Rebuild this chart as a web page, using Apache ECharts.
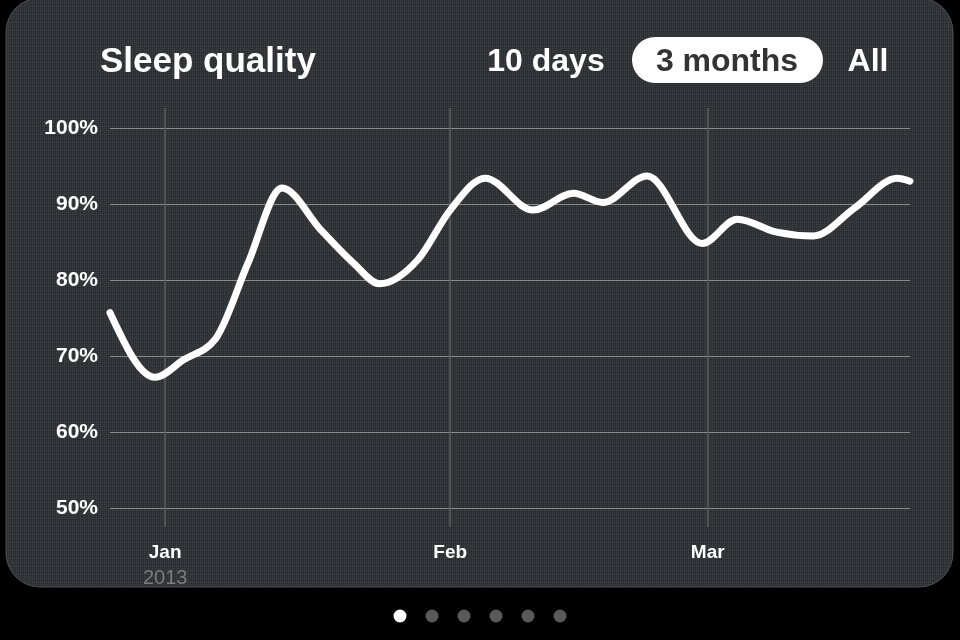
<!DOCTYPE html>
<html>
<head>
<meta charset="utf-8">
<script src="https://cdn.jsdelivr.net/npm/echarts@6/dist/echarts.min.js"></script>
<style>
html,body{margin:0;padding:0;background:#000;}
#c{width:960px;height:640px;}
</style>
</head>
<body>
<div id="c"></div>
<script>
// Day offsets from Jan 1, 2013 (negative = late Dec 2012)
const days = [-6, -1.1, 2, 5.5, 9, 12.7, 17, 20.5, 23.3, 27.5, 31, 34.8, 40, 44.4, 47.6, 52.4,
  58.4, 62.2, 66.5, 70.5, 75, 79.6, 81];
const quality = [75.7, 67.2, 69.5, 72.3, 82.2, 92.1, 86.5, 82.2, 79.5, 82.7, 89.2, 93.4, 89.2, 91.4, 90.2, 93.7,
  84.8, 88, 86.3, 85.8, 89.5, 93.4, 93];
const monthDays = [0, 31, 59];
const monthLabels = ['Jan', 'Feb', 'Mar'];
const yearLabels = ['2013', '', ''];
const yTicks = [50, 60, 70, 80, 90, 100];
const rangeButtons = ['10 days', '3 months', 'All'];
const pageCount = 6;

const FONT = '"Liberation Sans", Arial, Helvetica, sans-serif';

// subtle linen texture
const tex = document.createElement('canvas');
tex.width = 12; tex.height = 12;
const tctx = tex.getContext('2d');
tctx.fillStyle = '#303337';
tctx.fillRect(0, 0, 12, 12);
const shades = ['rgba(255,255,255,0.035)', 'rgba(0,0,0,0.08)', 'rgba(255,255,255,0.02)', 'rgba(0,0,0,0.05)'];
for (let i = 0; i < 12; i++) {
  tctx.fillStyle = shades[i % 4];
  tctx.fillRect(i, 0, 1, 12);
  tctx.fillStyle = shades[(i + 2) % 4];
  tctx.fillRect(0, i, 12, 1);
}

// monotone cubic path through pixel points (like d3.curveMonotoneX)
function monotonePath(p) {
  const n = p.length;
  const m = new Array(n);
  const sgn = function (v) { return v < 0 ? -1 : 1; };
  for (let i = 1; i < n - 1; i++) {
    const h0 = p[i][0] - p[i - 1][0], h1 = p[i + 1][0] - p[i][0];
    const s0 = (p[i][1] - p[i - 1][1]) / h0, s1 = (p[i + 1][1] - p[i][1]) / h1;
    const q = (s0 * h1 + s1 * h0) / (h0 + h1);
    m[i] = (sgn(s0) + sgn(s1)) * Math.min(Math.abs(s0), Math.abs(s1), 0.5 * Math.abs(q)) || 0;
  }
  const hs = p[1][0] - p[0][0];
  m[0] = (3 * (p[1][1] - p[0][1]) / hs - m[1]) / 2;
  const he = p[n - 1][0] - p[n - 2][0];
  m[n - 1] = (3 * (p[n - 1][1] - p[n - 2][1]) / he - m[n - 2]) / 2;
  let d = 'M' + p[0][0] + ' ' + p[0][1];
  for (let i = 0; i < n - 1; i++) {
    const h = (p[i + 1][0] - p[i][0]) / 3;
    d += ' C' + (p[i][0] + h) + ' ' + (p[i][1] + m[i] * h) + ' ' +
      (p[i + 1][0] - h) + ' ' + (p[i + 1][1] - m[i + 1] * h) + ' ' +
      p[i + 1][0] + ' ' + p[i + 1][1];
  }
  return d;
}

const chart = echarts.init(document.getElementById('c'), null, {renderer: 'canvas'});

const pageDots = [];
for (let i = 0; i < pageCount; i++) {
  pageDots.push({
    type: 'circle', shape: {cx: 400 + i * 32, cy: 616, r: 6.5},
    style: {fill: i === 0 ? '#ffffff' : '#5a5a5a'}, z: 10
  });
}

chart.setOption({
  backgroundColor: '#000',
  animation: false,
  graphic: [
    {type: 'rect', shape: {x: 6, y: -2, width: 947, height: 589, r: 34},
     style: {fill: {image: tex, repeat: 'repeat'}, stroke: '#4d5054', lineWidth: 1}, z: -10, silent: true},
    {type: 'text', x: 100, y: 62, style: {text: 'Sleep quality', fill: '#fff', font: 'bold 35px ' + FONT, textVerticalAlign: 'middle'}, z: 10},
    {type: 'text', x: 546, y: 62, style: {text: rangeButtons[0], fill: '#fff', font: 'bold 32px ' + FONT, textAlign: 'center', textVerticalAlign: 'middle'}, z: 10},
    {type: 'rect', shape: {x: 632, y: 37, width: 191, height: 46, r: 23}, style: {fill: '#fff'}, z: 10},
    {type: 'text', x: 727, y: 62, style: {text: rangeButtons[1], fill: '#333', font: 'bold 32px ' + FONT, textAlign: 'center', textVerticalAlign: 'middle'}, z: 11},
    {type: 'text', x: 868, y: 62, style: {text: rangeButtons[2], fill: '#fff', font: 'bold 32px ' + FONT, textAlign: 'center', textVerticalAlign: 'middle'}, z: 10}
  ].concat(pageDots),
  grid: [
    {left: 110, right: 50, top: 128, bottom: 132},
    {left: 110, right: 50, top: 108, bottom: 113}
  ],
  xAxis: [
    {gridIndex: 0, type: 'value', min: -6, max: 81, show: false},
    {gridIndex: 1, type: 'value', min: -6, max: 81,
     axisLine: {show: false}, axisTick: {show: false}, splitLine: {show: false},
     axisLabel: {
       customValues: monthDays, margin: 13,
       formatter: function (v) {
         const i = monthDays.indexOf(v);
         if (i < 0) return '';
         return '{m|' + monthLabels[i] + '}' + (yearLabels[i] ? '\n{y|' + yearLabels[i] + '}' : '');
       },
       rich: {
         m: {fontFamily: FONT, fontWeight: 'bold', fontSize: 19, color: '#fff', lineHeight: 26},
         y: {fontFamily: FONT, fontSize: 20, color: '#7a7a7a', lineHeight: 24}
       }
     }}
  ],
  yAxis: [
    {gridIndex: 0, type: 'value', min: 50, max: 100, interval: 10,
     axisLine: {show: false}, axisTick: {show: false},
     splitLine: {show: true, lineStyle: {color: '#8c8c8c', width: 1}},
     axisLabel: {margin: 12, color: '#fff', fontFamily: FONT, fontWeight: 'bold', fontSize: 21,
       formatter: function (v) { return yTicks.indexOf(v) >= 0 ? v + '%' : ''; }}},
    {gridIndex: 1, type: 'value', min: 0, max: 1, show: false}
  ],
  series: [
    {type: 'line', xAxisIndex: 1, yAxisIndex: 1, data: [], silent: true, z: 1,
     markLine: {silent: true, symbol: 'none', label: {show: false},
       lineStyle: {color: '#5c5c5c', width: 1.5, type: 'solid'},
       data: monthDays.map(function (d) { return {xAxis: d}; })}},
    {type: 'custom', xAxisIndex: 0, yAxisIndex: 0, z: 5, silent: true,
     data: days.map(function (d, i) { return [d, quality[i]]; }),
     renderItem: function (params, api) {
       if (params.dataIndex !== 0) return null;
       const pts = days.map(function (d, i) { return api.coord([d, quality[i]]); });
       return {
         type: 'path',
         shape: {pathData: monotonePath(pts)},
         style: {stroke: '#fff', lineWidth: 7, fill: null, lineCap: 'round', lineJoin: 'round'}
       };
     }}
  ]
});
</script>
</body>
</html>
